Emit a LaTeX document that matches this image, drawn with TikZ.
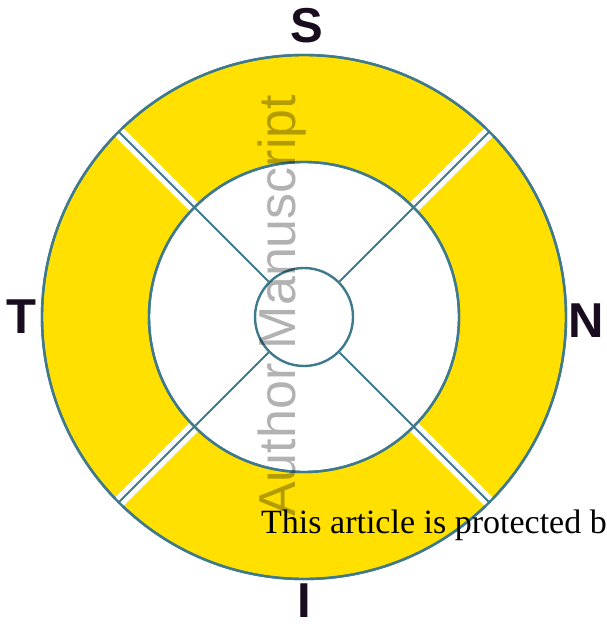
\documentclass[tikz,border=0pt]{standalone}
\usepackage{fontspec}
\setmainfont{Liberation Serif}
\newfontfamily\labfont{Liberation Sans}
\definecolor{ringyellow}{RGB}{255,224,0}
\definecolor{ringline}{RGB}{62,122,140}
\definecolor{labink}{RGB}{25,12,30}
\begin{document}
\begin{tikzpicture}[x=1pt,y=-1pt,
  ring/.style={circle, draw=ringline, line width=2.4pt, inner sep=0pt},
  lab/.style={font=\labfont\bfseries\fontsize{49}{49}\selectfont, inner sep=0pt, anchor=base, text=labink, text depth=0pt},
  spoke/.style={draw=ringline, line width=2pt},
  gapband/.style={draw=white, line width=12pt}]
\useasboundingbox (0,0) rectangle (606,628);
\clip (0,0) rectangle (606,628);
\fill[white] (0,0) rectangle (606,628);
\coordinate (c) at (304,317);
\fill[ringyellow, even odd rule] (c) circle[radius=262] (c) circle[radius=155];
\node[ring, minimum size=524pt] (outer) at (c) {};
\node[ring, minimum size=310pt] (inner) at (c) {};
\node[ring, minimum size=98pt] (small) at (c) {};
\foreach \a in {45,135,225,315}{
  \draw[gapband] (inner.\a) -- (outer.\a);
}
\foreach \a in {45,135,225,315}{
  \draw[spoke] (small.\a) -- (outer.\a);
}
\node[ring, minimum size=524pt] at (c) {};
\node[ring, minimum size=310pt] at (c) {};
\node[lab] (S) at (307,43) {S};
\node[lab] (T) at (21.5,333) {T};
\node[lab] (N) at (586,337) {N};
\node[lab] (I) at (304,617) {I};
\node[rotate=90, anchor=base west, inner sep=0pt, font=\labfont\fontsize{52}{52}\selectfont, text=black, text opacity=0.3] (wm) at (295,517) {Author Manuscript};
\node[anchor=base west, inner sep=0pt, font=\fontsize{34}{34}\selectfont, text=black] (art) at (261,533) {This article is protected b};
\end{tikzpicture}
\end{document}
